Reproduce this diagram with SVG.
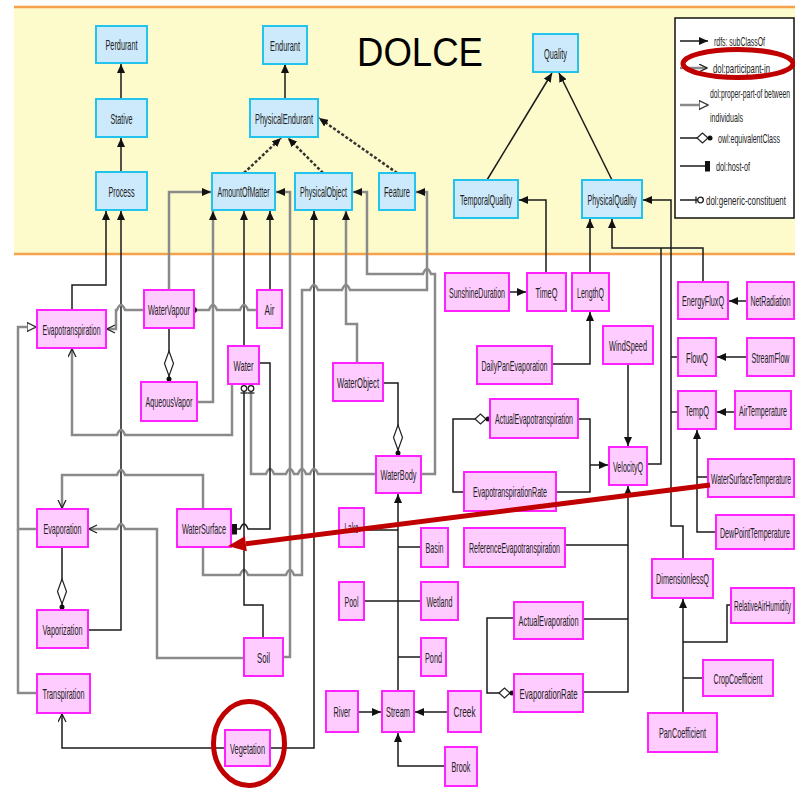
<svg xmlns="http://www.w3.org/2000/svg" width="795" height="790" viewBox="0 0 795 790">
<style>
.nb rect{fill:#cdeafc;stroke:#22c4ee;stroke-width:2}
.np rect{fill:#ffccff;stroke:#ff22ff;stroke-width:2}
text{font-family:"Liberation Sans",Arial,sans-serif;font-size:9px;fill:#222}
.nb text,.np text{text-anchor:middle}
text.s{font-size:7px}
.lg text{font-size:7px}
.k{fill:none;stroke:#1a1a1a;stroke-width:1.5}
.g{fill:none;stroke:#8a8a8a;stroke-width:2.5}
.d{fill:none;stroke:#333;stroke-width:2.5;stroke-dasharray:3 2}
.red{fill:none;stroke:#c00000;stroke-width:5}
</style>
<defs>
<marker id="fa" markerUnits="userSpaceOnUse" markerWidth="10" markerHeight="8" refX="9" refY="4" orient="auto"><path d="M0,0 L9,4 L0,8 z" fill="#111"/></marker>
<marker id="oa" markerUnits="userSpaceOnUse" markerWidth="10" markerHeight="10" refX="8.5" refY="4.5" orient="auto"><path d="M0.5,0.5 L8.5,4.5 L0.5,8.5" fill="none" stroke="#222" stroke-width="1.3"/></marker>
<marker id="ot" markerUnits="userSpaceOnUse" markerWidth="11" markerHeight="11" refX="9.5" refY="5" orient="auto"><path d="M0.5,0.5 L9.5,5 L0.5,9.5 z" fill="#fff" stroke="#333" stroke-width="1.3"/></marker>
<marker id="gc" markerUnits="userSpaceOnUse" markerWidth="10" markerHeight="8" refX="9" refY="4" orient="auto"><path d="M1,0.5 L1,7.5" stroke="#222" stroke-width="1.3"/><circle cx="5.5" cy="4" r="2.8" fill="#fff" stroke="#222" stroke-width="1.3"/></marker>
<marker id="sq" markerUnits="userSpaceOnUse" markerWidth="6" markerHeight="11" refX="5" refY="5.5" orient="auto"><rect x="0" y="0" width="5" height="11" fill="#111"/></marker>
<marker id="fd" markerUnits="userSpaceOnUse" markerWidth="6" markerHeight="7" refX="2" refY="3.5" orient="auto"><circle cx="3" cy="3.5" r="3" fill="#111"/></marker>
<marker id="eqv" markerUnits="userSpaceOnUse" markerWidth="34" markerHeight="12" refX="32" refY="6" orient="auto"><path d="M1,6 L13.5,1.5 L26,6 L13.5,10.5 z" fill="#fff" stroke="#222" stroke-width="1.2"/><circle cx="29" cy="6" r="2.5" fill="#111"/></marker>
<marker id="eqh" markerUnits="userSpaceOnUse" markerWidth="18" markerHeight="12" refX="16" refY="6" orient="auto"><path d="M1,6 L6.5,1 L12,6 L6.5,11 z" fill="#fff" stroke="#222" stroke-width="1.2"/><circle cx="14" cy="6" r="2.5" fill="#111"/></marker>
</defs>

<rect x="0" y="0" width="795" height="790" fill="#fff"/>
<rect x="14" y="7" width="781" height="247" fill="#fdfbcb"/>
<line x1="14" y1="7" x2="795" y2="7" stroke="#f5a04a" stroke-width="2.5"/>
<line x1="14" y1="254" x2="795" y2="254" stroke="#f5a04a" stroke-width="2.5"/>
<text x="357" y="66" style="font-size:40px;fill:#000" textLength="126" lengthAdjust="spacingAndGlyphs">DOLCE</text>

<g id="legend" class="lg">
<rect x="675" y="18" width="119" height="200" fill="#fff" stroke="#111" stroke-width="1.5"/>
<path class="k" d="M680,41 L708,41" stroke-width="2" marker-end="url(#fa)"/>
<text transform="translate(714,45.7) scale(1,1.857)" textLength="51" lengthAdjust="spacingAndGlyphs">rdfs: subClassOf</text>
<path class="g" d="M680,68 L707,68" marker-end="url(#oa)"/>
<text transform="translate(713,72.7) scale(1,1.857)" textLength="57" lengthAdjust="spacingAndGlyphs">dol:participant-in</text>
<path class="g" d="M680,105 L708,105" marker-end="url(#ot)"/>
<text transform="translate(710,97.7) scale(1,1.857)" textLength="80" lengthAdjust="spacingAndGlyphs">dol:proper-part-of between</text>
<text transform="translate(710,121.7) scale(1,1.857)" textLength="33" lengthAdjust="spacingAndGlyphs">individuals</text>
<path class="k" d="M680,138 L712,138" marker-end="url(#eqh)"/>
<text transform="translate(718,142.7) scale(1,1.857)" textLength="62" lengthAdjust="spacingAndGlyphs">owl:equivalentClass</text>
<path class="k" d="M680,166 L710,166" marker-end="url(#sq)"/>
<text transform="translate(716,170.7) scale(1,1.857)" textLength="34" lengthAdjust="spacingAndGlyphs">dol:host-of</text>
<path class="k" d="M680,200 L704,200" marker-end="url(#gc)"/>
<text transform="translate(706,204.7) scale(1,1.857)" textLength="80" lengthAdjust="spacingAndGlyphs">dol:generic-constituent</text>
</g>

<g id="connectors">
<path class="k" d="M121,99 L121,64" marker-end="url(#fa)"/>
<path class="k" d="M121,172 L121,138" marker-end="url(#fa)"/>
<path class="k" d="M285,99 L285,64" marker-end="url(#fa)"/>
<path class="d" d="M244,173 L281,138" marker-end="url(#fa)"/>
<path class="d" d="M323,173 L288,138" marker-end="url(#fa)"/>
<path class="d" d="M397,173 L319,118" marker-end="url(#fa)"/>
<path class="k" d="M487,180 L552,73" stroke-width="1.3" marker-end="url(#fa)"/>
<path class="k" d="M612,180 L559,73" stroke-width="1.3" marker-end="url(#fa)"/>
<path class="g" d="M169,290 L169,192 L211,192" marker-end="url(#fa)"/>
<path class="g" d="M197,402 L213,402 L213,211" marker-end="url(#fa)"/>
<path class="k" d="M244,346 L244,211" marker-end="url(#fa)"/>
<path class="k" d="M270,290 L270,211" marker-end="url(#fa)"/>
<path class="g" d="M283,657 L290,657 L290,192 L276,192" marker-end="url(#fa)"/>
<path class="g" d="M421,474 L435,474 L435,274 L431,274 Q427,264 423,274 L367,274 L367,192 L353,192" marker-end="url(#fa)"/>
<path class="g" d="M357,363 L357,324 L346,324 L346,211" marker-end="url(#fa)"/>
<path class="k" d="M270,748 L314,748 L314,211" marker-end="url(#fa)"/>
<path class="g" d="M203,547 L203,575 L240,575 Q244,565 248,575 L286,575 Q290,565 294,575 L302,575 L302,290 L310,290 Q314,280 318,290 L342,290 Q346,280 350,290 L427,290 L427,192 L416,192" marker-end="url(#fa)"/>
<path class="k" d="M72,310 L72,285 L106,285 L106,211" marker-end="url(#fa)"/>
<path class="k" d="M88,630 L121,630 L121,211" marker-end="url(#fa)"/>
<path class="g" d="M144,310 L125,310 Q121,300 117,310 L116,310 L116,329 L107,329" marker-end="url(#oa)"/>
<path class="g" d="M232,384 L232,435 L125,435 Q121,425 117,435 L72,435 L72,349" marker-end="url(#oa)"/>
<path class="g" d="M37,529 L18,529 L18,327 L36,327" marker-end="url(#ot)"/>
<path class="g" d="M37,693 L18,693 L18,529"/>
<path class="g" d="M203,509 L203,475 L125,475 Q121,465 117,475 L62,475 L62,508" marker-end="url(#oa)"/>
<path class="g" d="M244,658 L157,658 L157,529 L125,529 Q121,519 117,529 L89,529" marker-end="url(#oa)"/>
<path class="k" d="M62,547 L62,610" marker-end="url(#eqv)"/>
<path class="k" d="M225,748 L62,748 L62,714" marker-end="url(#oa)"/>
<path class="k" d="M263,638 L263,605 L244,605 L244,385" marker-end="url(#gc)"/>
<path class="g" d="M376,474 L318,474 Q314,464 310,474 L306,474 Q302,464 298,474 L294,474 Q290,464 286,474 L274,474 Q270,464 266,474 L251,474 L251,385" marker-end="url(#gc)"/>
<path class="k" d="M259,363 L270,363 L270,529 L248,529 Q244,519 240,529 L232,529" marker-end="url(#sq)"/>
<path class="g" d="M257,310 L248,310 Q244,300 240,310 L217,310 Q213,300 209,310 L195,310" marker-end="url(#fd)"/>
<path class="k" d="M169,328 L169,382" marker-end="url(#eqv)"/>
<path class="k" d="M383,383 L398,383 L398,456" marker-end="url(#eqv)"/>
<path class="k" d="M398,691 L398,494" marker-end="url(#fa)"/>
<path class="k" d="M364,530 L398,530"/>
<path class="k" d="M421,547 L398,547"/>
<path class="k" d="M364,601 L421,601"/>
<path class="k" d="M421,657 L398,657"/>
<path class="k" d="M358,712 L381,712" stroke-width="2" marker-end="url(#fa)"/>
<path class="k" d="M448,712 L415,712" stroke-width="2" marker-end="url(#fa)"/>
<path class="k" d="M445,766 L398,766 L398,733" marker-end="url(#fa)"/>
<path class="k" d="M509,292 L526,292" stroke-width="2" marker-end="url(#fa)"/>
<path class="k" d="M546,273 L546,200 L519,200" marker-end="url(#fa)"/>
<path class="k" d="M590,273 L590,219" marker-end="url(#fa)"/>
<path class="k" d="M552,364 L590,364 L590,312" marker-end="url(#fa)"/>
<path class="k" d="M703,282 L703,248 L612,248 L612,219" marker-end="url(#fa)"/>
<path class="k" d="M647,464 L661,464 L661,248"/>
<path class="k" d="M683,559 L683,526 L671,526 L671,200 L643,200" marker-end="url(#fa)"/>
<path class="k" d="M678,357 L671,357"/>
<path class="k" d="M678,412 L671,412"/>
<path class="k" d="M747,301 L729,301" stroke-width="2" marker-end="url(#fa)"/>
<path class="k" d="M747,357 L717,357" stroke-width="2" marker-end="url(#fa)"/>
<path class="k" d="M735,412 L717,412" stroke-width="2" marker-end="url(#fa)"/>
<path class="k" d="M716,532 L697,532 L697,430" marker-end="url(#fa)"/>
<path class="k" d="M708,477 L697,477"/>
<path class="k" d="M628,364 L628,446" marker-end="url(#fa)"/>
<path class="k" d="M578,419 L590,419 L590,492 L556,492"/>
<path class="k" d="M590,465 L608,465" stroke-width="2" marker-end="url(#fa)"/>
<path class="k" d="M464,492 L453,492 L453,419 L490,419" marker-end="url(#eqh)"/>
<path class="k" d="M565,545 L628,545"/>
<path class="k" d="M583,619 L628,619"/>
<path class="k" d="M583,692 L628,692 L628,486" marker-end="url(#fa)"/>
<path class="k" d="M514,618 L487,618 L487,693 L514,693" marker-end="url(#eqh)"/>
<path class="k" d="M683,713 L683,599" marker-end="url(#fa)"/>
<path class="k" d="M731,605 L727,605 L727,642 L683,642"/>
<path class="k" d="M703,678 L683,678"/>
</g>

<g id="n-Perdurant" class="nb"><rect x="96" y="26" width="51" height="37"/><text transform="translate(121.5,50) scale(1,1.667)" textLength="32" lengthAdjust="spacingAndGlyphs">Perdurant</text></g>
<g id="n-Stative" class="nb"><rect x="96" y="99" width="51" height="38"/><text transform="translate(121.5,123.5) scale(1,1.667)" textLength="22" lengthAdjust="spacingAndGlyphs">Stative</text></g>
<g id="n-Process" class="nb"><rect x="96" y="172" width="51" height="38"/><text transform="translate(121.5,196.5) scale(1,1.667)" textLength="26" lengthAdjust="spacingAndGlyphs">Process</text></g>
<g id="n-Endurant" class="nb"><rect x="263" y="26" width="44" height="38"/><text transform="translate(285,50.5) scale(1,1.667)" textLength="30" lengthAdjust="spacingAndGlyphs">Endurant</text></g>
<g id="n-PhysicalEndurant" class="nb"><rect x="250" y="99" width="68" height="38"/><text transform="translate(284,123.5) scale(1,1.667)" textLength="58" lengthAdjust="spacingAndGlyphs">PhysicalEndurant</text></g>
<g id="n-AmountOfMatter" class="nb"><rect x="212" y="173" width="63" height="37"/><text transform="translate(243.5,197) scale(1,1.667)" textLength="52" lengthAdjust="spacingAndGlyphs">AmountOfMatter</text></g>
<g id="n-PhysicalObject" class="nb"><rect x="295" y="173" width="57" height="37"/><text transform="translate(323.5,197) scale(1,1.667)" textLength="47" lengthAdjust="spacingAndGlyphs">PhysicalObject</text></g>
<g id="n-Feature" class="nb"><rect x="379" y="173" width="36" height="37"/><text transform="translate(397,197) scale(1,1.667)" textLength="26" lengthAdjust="spacingAndGlyphs">Feature</text></g>
<g id="n-Quality" class="nb"><rect x="533" y="34" width="45" height="38"/><text transform="translate(555.5,58.5) scale(1,1.667)" textLength="23" lengthAdjust="spacingAndGlyphs">Quality</text></g>
<g id="n-TemporalQuality" class="nb"><rect x="454" y="180" width="64" height="38"/><text transform="translate(486,204.5) scale(1,1.667)" textLength="52" lengthAdjust="spacingAndGlyphs">TemporalQuality</text></g>
<g id="n-PhysicalQuality" class="nb"><rect x="582" y="180" width="60" height="38"/><text transform="translate(612,204.5) scale(1,1.667)" textLength="49" lengthAdjust="spacingAndGlyphs">PhysicalQuality</text></g>

<g id="n-Evapotranspiration" class="np"><rect x="37" y="310" width="69" height="38"/><text transform="translate(71.5,334.5) scale(1,1.667)" textLength="58" lengthAdjust="spacingAndGlyphs">Evapotranspiration</text></g>
<g id="n-WaterVapour" class="np"><rect x="144" y="290" width="50" height="38"/><text transform="translate(169,314.5) scale(1,1.667)" textLength="42" lengthAdjust="spacingAndGlyphs">WaterVapour</text></g>
<g id="n-AqueousVapor" class="np"><rect x="141" y="382" width="56" height="39"/><text transform="translate(169,407) scale(1,1.667)" textLength="47" lengthAdjust="spacingAndGlyphs">AqueousVapor</text></g>
<g id="n-Water" class="np"><rect x="228" y="346" width="31" height="38"/><text transform="translate(243.5,370.5) scale(1,1.667)" textLength="20" lengthAdjust="spacingAndGlyphs">Water</text></g>
<g id="n-Air" class="np"><rect x="257" y="290" width="25" height="38"/><text transform="translate(269.5,314.5) scale(1,1.667)" textLength="10" lengthAdjust="spacingAndGlyphs">Air</text></g>
<g id="n-WaterObject" class="np"><rect x="333" y="363" width="50" height="38"/><text transform="translate(358,387.5) scale(1,1.667)" textLength="42" lengthAdjust="spacingAndGlyphs">WaterObject</text></g>
<g id="n-WaterBody" class="np"><rect x="376" y="456" width="45" height="37"/><text transform="translate(398.5,480) scale(1,1.667)" textLength="36" lengthAdjust="spacingAndGlyphs">WaterBody</text></g>
<g id="n-SunshineDuration" class="np"><rect x="445" y="273" width="64" height="38"/><text transform="translate(477,297.5) scale(1,1.667)" textLength="56" lengthAdjust="spacingAndGlyphs">SunshineDuration</text></g>
<g id="n-DailyPanEvaporation" class="np"><rect x="477" y="346" width="75" height="38"/><text transform="translate(514.5,370.5) scale(1,1.667)" textLength="66" lengthAdjust="spacingAndGlyphs">DailyPanEvaporation</text></g>
<g id="n-ActualEvapotranspiration" class="np"><rect x="490" y="399" width="88" height="39"/><text transform="translate(534,424) scale(1,1.667)" textLength="78" lengthAdjust="spacingAndGlyphs">ActualEvapotranspiration</text></g>
<g id="n-EvapotranspirationRate" class="np"><rect x="464" y="472" width="92" height="39"/><text transform="translate(510,497) scale(1,1.667)" textLength="74" lengthAdjust="spacingAndGlyphs">EvapotranspirationRate</text></g>
<g id="n-VelocityQ" class="np"><rect x="609" y="447" width="38" height="38"/><text transform="translate(628,471.5) scale(1,1.667)" textLength="30" lengthAdjust="spacingAndGlyphs">VelocityQ</text></g>
<g id="n-TimeQ" class="np"><rect x="527" y="273" width="39" height="38"/><text transform="translate(546.5,297.5) scale(1,1.667)" textLength="22" lengthAdjust="spacingAndGlyphs">TimeQ</text></g>
<g id="n-LengthQ" class="np"><rect x="572" y="273" width="37" height="38"/><text transform="translate(590.5,297.5) scale(1,1.667)" textLength="27" lengthAdjust="spacingAndGlyphs">LengthQ</text></g>
<g id="n-WindSpeed" class="np"><rect x="603" y="326" width="50" height="38"/><text transform="translate(628,350.5) scale(1,1.667)" textLength="38" lengthAdjust="spacingAndGlyphs">WindSpeed</text></g>
<g id="n-EnergyFluxQ" class="np"><rect x="678" y="282" width="50" height="37"/><text transform="translate(703,306) scale(1,1.667)" textLength="42" lengthAdjust="spacingAndGlyphs">EnergyFluxQ</text></g>
<g id="n-NetRadiation" class="np"><rect x="747" y="282" width="47" height="37"/><text class="s" transform="translate(770.5,306) scale(1,2.14)" textLength="40" lengthAdjust="spacingAndGlyphs">NetRadiation</text></g>
<g id="n-FlowQ" class="np"><rect x="678" y="338" width="38" height="38"/><text transform="translate(697,362.5) scale(1,1.667)" textLength="22" lengthAdjust="spacingAndGlyphs">FlowQ</text></g>
<g id="n-StreamFlow" class="np"><rect x="747" y="338" width="47" height="38"/><text class="s" transform="translate(770.5,362.5) scale(1,2.14)" textLength="38" lengthAdjust="spacingAndGlyphs">StreamFlow</text></g>
<g id="n-TempQ" class="np"><rect x="678" y="391" width="38" height="38"/><text transform="translate(697,415.5) scale(1,1.667)" textLength="24" lengthAdjust="spacingAndGlyphs">TempQ</text></g>
<g id="n-AirTemperature" class="np"><rect x="735" y="391" width="56" height="38"/><text class="s" transform="translate(763,415.5) scale(1,2.14)" textLength="48" lengthAdjust="spacingAndGlyphs">AirTemperature</text></g>
<g id="n-WaterSurfaceTemperature" class="np"><rect x="708" y="459" width="86" height="38"/><text class="s" transform="translate(751,483.5) scale(1,2.14)" textLength="80" lengthAdjust="spacingAndGlyphs">WaterSurfaceTemperature</text></g>
<g id="n-DewPointTemperature" class="np"><rect x="716" y="515" width="78" height="34"/><text class="s" transform="translate(755,537.5) scale(1,2.14)" textLength="70" lengthAdjust="spacingAndGlyphs">DewPointTemperature</text></g>
<g id="n-DimensionlessQ" class="np"><rect x="652" y="559" width="61" height="39"/><text transform="translate(682.5,584) scale(1,1.667)" textLength="53" lengthAdjust="spacingAndGlyphs">DimensionlessQ</text></g>
<g id="n-RelativeAirHumidity" class="np"><rect x="731" y="588" width="63" height="35"/><text class="s" transform="translate(762.5,611) scale(1,2.14)" textLength="57" lengthAdjust="spacingAndGlyphs">RelativeAirHumidity</text></g>
<g id="n-CropCoefficient" class="np"><rect x="703" y="660" width="70" height="36"/><text transform="translate(738,683.5) scale(1,1.667)" textLength="49" lengthAdjust="spacingAndGlyphs">CropCoefficient</text></g>
<g id="n-PanCoefficient" class="np"><rect x="648" y="713" width="69" height="39"/><text transform="translate(682.5,738) scale(1,1.667)" textLength="47" lengthAdjust="spacingAndGlyphs">PanCoefficient</text></g>
<g id="n-ActualEvaporation" class="np"><rect x="514" y="602" width="69" height="37"/><text transform="translate(548.5,626) scale(1,1.667)" textLength="60" lengthAdjust="spacingAndGlyphs">ActualEvaporation</text></g>
<g id="n-EvaporationRate" class="np"><rect x="514" y="674" width="69" height="38"/><text transform="translate(548.5,698.5) scale(1,1.667)" textLength="58" lengthAdjust="spacingAndGlyphs">EvaporationRate</text></g>
<g id="n-ReferenceEvapotranspiration" class="np"><rect x="464" y="528" width="101" height="39"/><text transform="translate(514.5,553) scale(1,1.667)" textLength="91" lengthAdjust="spacingAndGlyphs">ReferenceEvapotranspiration</text></g>
<g id="n-Lake" class="np"><rect x="339" y="508" width="25" height="39"/><text transform="translate(351.5,533) scale(1,1.667)" textLength="14" lengthAdjust="spacingAndGlyphs">Lake</text></g>
<g id="n-Basin" class="np"><rect x="421" y="528" width="27" height="39"/><text transform="translate(434.5,553) scale(1,1.667)" textLength="18" lengthAdjust="spacingAndGlyphs">Basin</text></g>
<g id="n-Pool" class="np"><rect x="339" y="582" width="25" height="38"/><text transform="translate(351.5,606.5) scale(1,1.667)" textLength="14" lengthAdjust="spacingAndGlyphs">Pool</text></g>
<g id="n-Wetland" class="np"><rect x="421" y="582" width="37" height="38"/><text transform="translate(439.5,606.5) scale(1,1.667)" textLength="26" lengthAdjust="spacingAndGlyphs">Wetland</text></g>
<g id="n-Pond" class="np"><rect x="421" y="638" width="25" height="38"/><text transform="translate(433.5,662.5) scale(1,1.667)" textLength="17" lengthAdjust="spacingAndGlyphs">Pond</text></g>
<g id="n-River" class="np"><rect x="326" y="691" width="32" height="41"/><text transform="translate(342,717) scale(1,1.667)" textLength="17" lengthAdjust="spacingAndGlyphs">River</text></g>
<g id="n-Stream" class="np"><rect x="382" y="691" width="32" height="41"/><text transform="translate(398,717) scale(1,1.667)" textLength="24" lengthAdjust="spacingAndGlyphs">Stream</text></g>
<g id="n-Creek" class="np"><rect x="448" y="691" width="33" height="41"/><text transform="translate(464.5,717) scale(1,1.667)" textLength="22" lengthAdjust="spacingAndGlyphs">Creek</text></g>
<g id="n-Brook" class="np"><rect x="445" y="747" width="32" height="39"/><text transform="translate(461,772) scale(1,1.667)" textLength="19" lengthAdjust="spacingAndGlyphs">Brook</text></g>
<g id="n-Evaporation" class="np"><rect x="37" y="509" width="51" height="38"/><text transform="translate(62.5,533.5) scale(1,1.667)" textLength="38" lengthAdjust="spacingAndGlyphs">Evaporation</text></g>
<g id="n-Vaporization" class="np"><rect x="37" y="610" width="51" height="38"/><text transform="translate(62.5,634.5) scale(1,1.667)" textLength="40" lengthAdjust="spacingAndGlyphs">Vaporization</text></g>
<g id="n-Transpiration" class="np"><rect x="37" y="674" width="53" height="39"/><text transform="translate(63.5,699) scale(1,1.667)" textLength="42" lengthAdjust="spacingAndGlyphs">Transpiration</text></g>
<g id="n-WaterSurface" class="np"><rect x="177" y="509" width="54" height="38"/><text transform="translate(204,533.5) scale(1,1.667)" textLength="44" lengthAdjust="spacingAndGlyphs">WaterSurface</text></g>
<g id="n-Soil" class="np"><rect x="244" y="638" width="39" height="38"/><text transform="translate(263.5,662.5) scale(1,1.667)" textLength="13" lengthAdjust="spacingAndGlyphs">Soil</text></g>
<g id="n-Vegetation" class="np"><rect x="225" y="730" width="45" height="36"/><text transform="translate(247.5,753.5) scale(1,1.667)" textLength="35" lengthAdjust="spacingAndGlyphs">Vegetation</text></g>

<g id="highlights">
<ellipse class="red" cx="738" cy="63.5" rx="55" ry="14"/>
<ellipse class="red" cx="249" cy="743.5" rx="35.5" ry="42"/>
<line class="red" x1="710" y1="485" x2="246" y2="543.7"/>
<polygon points="228,546 246.8,551.2 244.9,536.3" fill="#c00000"/>
</g>
</svg>
